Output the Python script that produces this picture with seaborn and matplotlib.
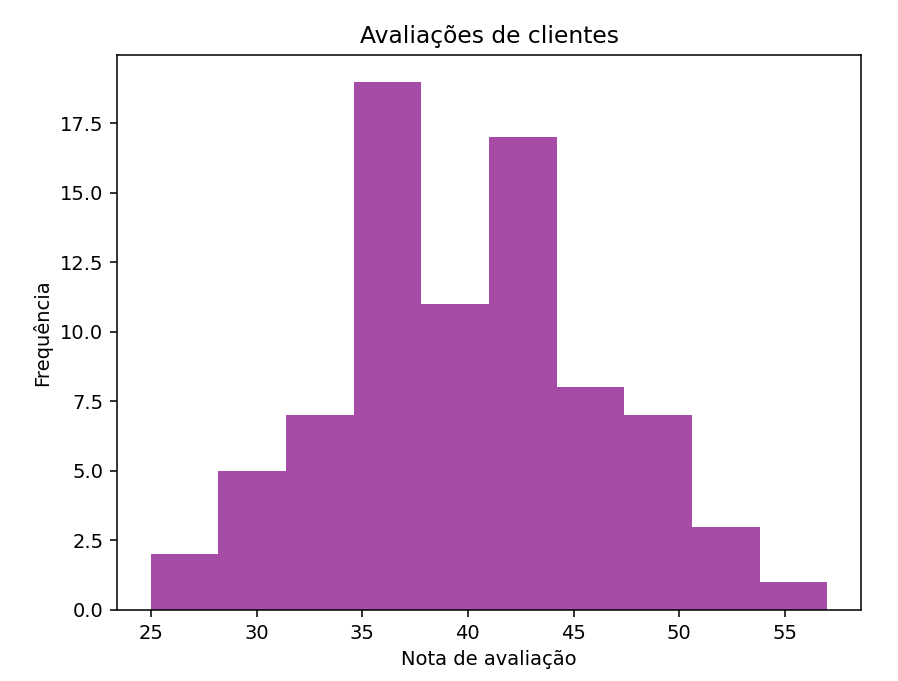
import numpy as np
import matplotlib
matplotlib.use("Agg")
import matplotlib.pyplot as plt
import seaborn as sns

# -----------------------------
# Data
# -----------------------------
bin_edges = [25.0, 28.2, 31.4, 34.6, 37.8, 41.0, 44.2, 47.4, 50.6, 53.8, 57.0]
counts = [2, 5, 7, 19, 11, 17, 8, 7, 3, 1]
bin_centers = [(a + b) / 2 for a, b in zip(bin_edges[:-1], bin_edges[1:])]

# -----------------------------
# Plot
# -----------------------------
fig = plt.figure(figsize=(898 / 140, 681 / 140), dpi=140)
ax = fig.add_axes([0.1303, 0.1043, 0.8285, 0.8147])

sns.histplot(x=bin_centers, weights=counts, bins=bin_edges, color="purple",
             alpha=0.7, linewidth=0, ax=ax)

ax.set_title("Avaliações de clientes")
ax.set_xlabel("Nota de avaliação")
ax.set_ylabel("Frequência")
ax.set_yticks(np.arange(0, 18, 2.5))

fig.savefig("out.png", dpi=140)
